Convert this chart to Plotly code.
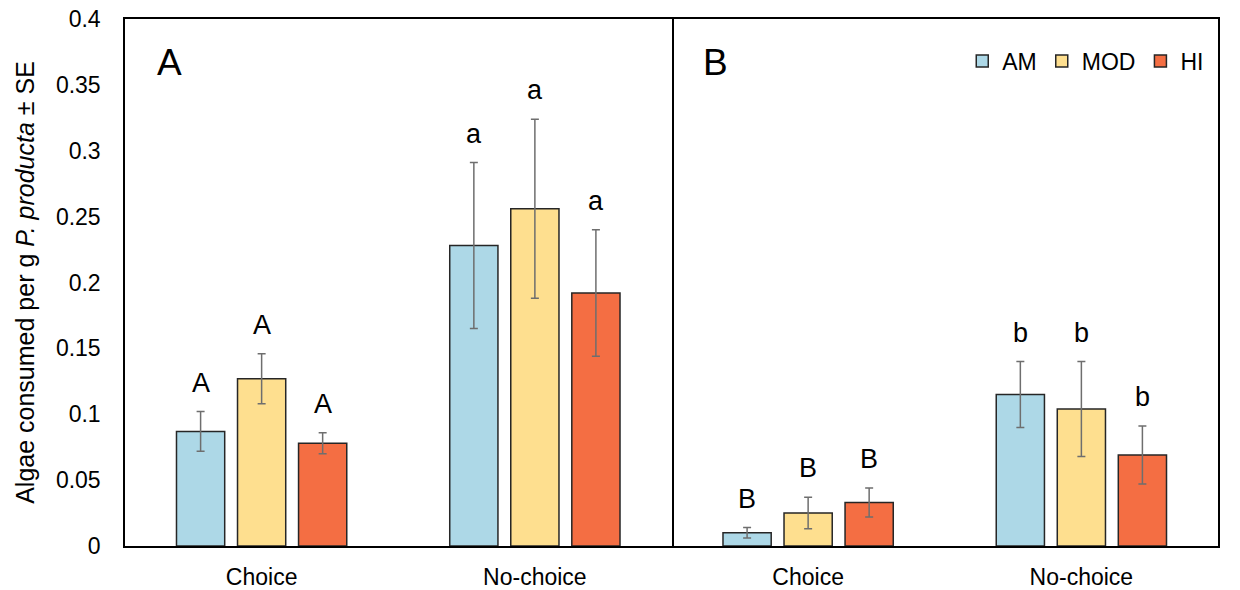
import plotly.graph_objects as go

categories = ["Choice", "No-choice"]
series = ["AM", "MOD", "HI"]
colors = {"AM": "#ADD8E7", "MOD": "#FEDF8F", "HI": "#F46E43"}

# Panel A
a_vals = {"AM": [0.087, 0.228], "MOD": [0.127, 0.256], "HI": [0.078, 0.192]}
a_errs = {"AM": [0.015, 0.063], "MOD": [0.019, 0.068], "HI": [0.008, 0.048]}
a_lets = {"AM": ["A", "a"], "MOD": ["A", "a"], "HI": ["A", "a"]}
# Panel B
b_vals = {"AM": [0.010, 0.115], "MOD": [0.025, 0.104], "HI": [0.033, 0.069]}
b_errs = {"AM": [0.004, 0.025], "MOD": [0.012, 0.036], "HI": [0.011, 0.022]}
b_lets = {"AM": ["B", "b"], "MOD": ["B", "b"], "HI": ["B", "b"]}

yticks = [0, 0.05, 0.1, 0.15, 0.2, 0.25, 0.3, 0.35, 0.4]
ytick_text = ["0", "0.05", "0.1", "0.15", "0.2", "0.25", "0.3", "0.35", "0.4"]

FONT = "Liberation Sans, Arial, sans-serif"
fig = go.Figure()

for panel, (vals, errs, xa, ya) in enumerate([(a_vals, a_errs, "x", "y"), (b_vals, b_errs, "x2", "y2")]):
    for s in series:
        fig.add_trace(go.Bar(
            x=categories, y=vals[s], name=s, xaxis=xa, yaxis=ya,
            marker=dict(color=colors[s], line=dict(color="#262626", width=1.5)),
            error_y=dict(type="data", array=errs[s], color="#6E6E6E", thickness=1.5, width=4),
            showlegend=(panel == 1), offsetgroup=s,
        ))

# significance letters as annotations
annotations = []
offsets = {"AM": -1, "MOD": 0, "HI": 1}
slot = 0.223
for vals, errs, lets, xa, ya in [(a_vals, a_errs, a_lets, "x", "y"), (b_vals, b_errs, b_lets, "x2", "y2")]:
    for s in series:
        for i, c in enumerate(categories):
            annotations.append(dict(
                x=i + offsets[s] * slot, y=vals[s][i] + errs[s][i], xref=xa, yref=ya,
                text=lets[s][i], showarrow=False, yanchor="bottom", yshift=12,
                font=dict(family=FONT, size=27, color="#000"),
            ))

annotations.append(dict(x=0.041, y=0.917, xref="paper", yref="paper", text="A", showarrow=False,
                        xanchor="center", yanchor="middle", font=dict(family=FONT, size=37, color="#000")))
annotations.append(dict(x=0.54, y=0.917, xref="paper", yref="paper", text="B", showarrow=False,
                        xanchor="center", yanchor="middle", font=dict(family=FONT, size=37, color="#000")))

axis_common = dict(showline=True, linecolor="#000", linewidth=1.5, showgrid=False, automargin=False,
                   zeroline=False, ticks="", ticklabeloverflow="allow",
                   tickfont=dict(family=FONT, size=23, color="#000"))

fig.update_layout(
    width=1224, height=590,
    margin=dict(l=117, r=14, t=11, b=52),
    paper_bgcolor="white", plot_bgcolor="white",
    barmode="group", bargap=0.33, bargroupgap=0.21,
    font=dict(family=FONT, color="#000"),
    xaxis=dict(domain=[0, 0.5], anchor="y", mirror=True, ticklabelstandoff=10, **axis_common),
    xaxis2=dict(domain=[0.5, 1], anchor="y2", mirror=True, ticklabelstandoff=10, **axis_common),
    yaxis=dict(range=[0, 0.4], anchor="x", mirror=True, tickvals=yticks, ticktext=ytick_text, ticklabelstandoff=18,
               title=dict(text="Algae consumed per g <i>P. producta</i> ± SE", font=dict(family=FONT, size=25, color="#000"), standoff=14),
               **axis_common),
    yaxis2=dict(range=[0, 0.4], anchor="x2", matches="y", side="right", mirror=False, showticklabels=False, **axis_common),
    legend=dict(orientation="h", x=0.992, xanchor="right", y=0.92, yanchor="middle",
                font=dict(family=FONT, size=23, color="#000"), bgcolor="rgba(0,0,0,0)",
                itemwidth=30, traceorder="normal"),
    annotations=annotations,
)

fig.write_html("out.html")
